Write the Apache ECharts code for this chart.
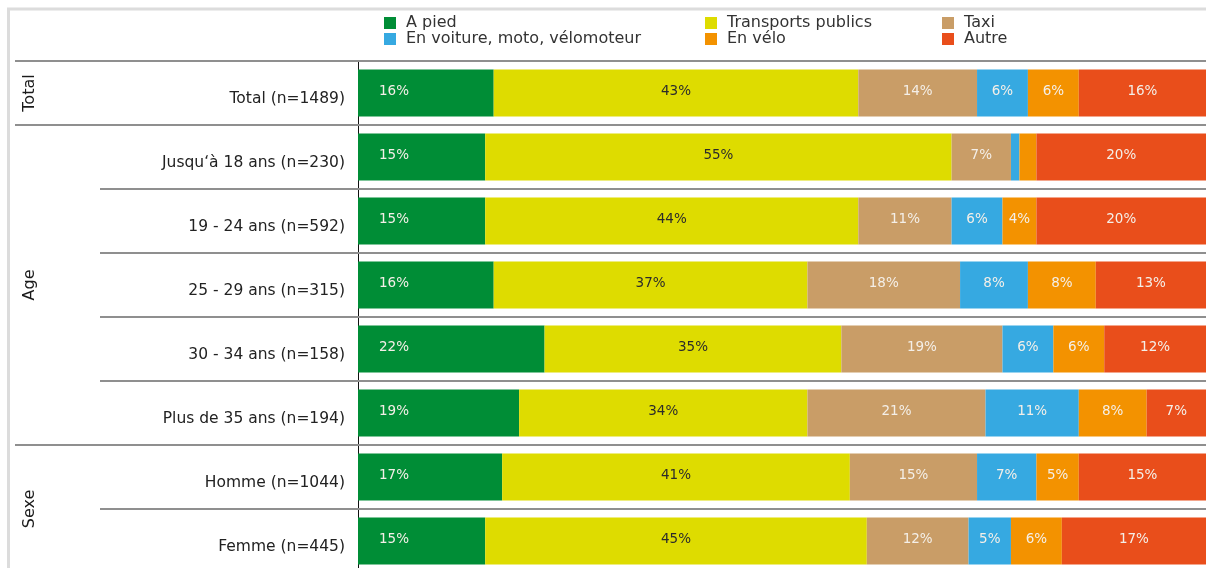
<!DOCTYPE html>
<html>
<head>
<meta charset="utf-8">
<script src="https://cdn.jsdelivr.net/npm/echarts@6/dist/echarts.min.js"></script>
<style>
  html, body { margin: 0; padding: 0; background: #ffffff; overflow: hidden; }
  #chart { width: 1206px; height: 573px; }
</style>
</head>
<body>
<div id="chart"></div>
<script>
// Respondent groups, top to bottom
const categories = [
  'Total (n=1489)',
  'Jusqu‘à 18 ans (n=230)',
  '19 - 24 ans (n=592)',
  '25 - 29 ans (n=315)',
  '30 - 34 ans (n=158)',
  'Plus de 35 ans (n=194)',
  'Homme (n=1044)',
  'Femme (n=445)'
];

// Section headings and how many rows each one spans
const groupNames = ['Total', 'Age', 'Sexe'];
const groupSizes = [1, 5, 2];

// Share of each mode of transport, in percent
const seriesNames = ['A pied', 'Transports publics', 'Taxi', 'En voiture, moto, vélomoteur', 'En vélo', 'Autre'];
const aPied      = [16, 15, 15, 16, 22, 19, 17, 15];
const transports = [43, 55, 44, 37, 35, 34, 41, 45];
const taxi       = [14,  7, 11, 18, 19, 21, 15, 12];
const voiture    = [ 6,  1,  6,  8,  6, 11,  7,  5];
const velo       = [ 6,  2,  4,  8,  6,  8,  5,  6];
const autre      = [16, 20, 20, 13, 12,  7, 15, 17];

const FONT = '"DejaVu Sans", "Open Sans", sans-serif';
const colors = ['#008d36', '#dedc00', '#c99d67', '#36a9e1', '#f39200', '#e94e1b'];
const values = [aPied, transports, taxi, voiture, velo, autre];

const chart = echarts.init(document.getElementById('chart'), null, { renderer: 'canvas' });

const series = values.map((vals, i) => ({
  name: seriesNames[i],
  type: 'bar',
  stack: 'total',
  data: vals,
  barWidth: 47,
  itemStyle: { color: colors[i] },
  label: {
    show: true,
    position: i === 0 ? 'insideLeft' : 'inside',
    distance: i === 0 ? 21 : 5,
    offset: [0, -2],
    formatter: p => (p.value < 3 ? '' : p.value + '%'),
    fontFamily: FONT,
    fontSize: 13.5,
    color: i === 1 ? '#2b2b2b' : '#f4efe8'
  },
  emphasis: { disabled: true },
  animation: false
}));

const legendBase = {
  orient: 'vertical',
  itemWidth: 12,
  itemHeight: 12,
  itemGap: 0,
  icon: 'rect',
  top: 10,
  selectedMode: false,
  textStyle: { fontFamily: FONT, fontSize: 16, lineHeight: 16, color: '#333', padding: [0, 0, 0, 5] }
};

chart.setOption({
  animation: false,
  legend: [
    Object.assign({}, legendBase, { left: 379, data: ['A pied', 'En voiture, moto, vélomoteur'] }),
    Object.assign({}, legendBase, { left: 700, data: ['Transports publics', 'En vélo'] }),
    Object.assign({}, legendBase, { left: 937, data: ['Taxi', 'Autre'] })
  ],
  grid: { left: 358, right: 0, top: 61, bottom: 0 },
  xAxis: {
    type: 'value',
    min: 0,
    max: 100,
    show: false
  },
  yAxis: {
    type: 'category',
    inverse: true,
    data: categories,
    axisLine: { show: true, lineStyle: { color: '#111', width: 1 } },
    axisTick: { show: false },
    splitLine: { show: false },
    axisLabel: {
      fontFamily: FONT,
      fontSize: 15.5,
      color: '#222',
      margin: 13,
      verticalAlign: 'top',
      lineHeight: 12
    }
  },
  series: series
});

// Row separators, section headings and the outer frame
function drawDecorations() {
  const p0 = chart.convertToPixel({ yAxisIndex: 0 }, categories[0]);
  const p1 = chart.convertToPixel({ yAxisIndex: 0 }, categories[1]);
  const band = Math.abs(p1 - p0);
  const boundary = i => Math.round(p0 + (i - 0.5) * band);
  const W = chart.getWidth();
  const H = chart.getHeight();

  const sectionStarts = [];
  let acc = 0;
  groupSizes.forEach(s => { sectionStarts.push(acc); acc += s; });

  const elements = [];
  // frame
  elements.push({ type: 'line', shape: { x1: 7, y1: 9, x2: W, y2: 9 }, style: { stroke: '#dcdcdc', lineWidth: 3 }, z: 10 });
  elements.push({ type: 'line', shape: { x1: 8.5, y1: 8, x2: 8.5, y2: H }, style: { stroke: '#dcdcdc', lineWidth: 3 }, z: 10 });

  for (let i = 0; i < categories.length; i++) {
    const isSection = sectionStarts.indexOf(i) >= 0;
    const y = boundary(i);
    elements.push({
      type: 'line',
      shape: { x1: isSection ? 15 : 100, y1: y, x2: W, y2: y },
      style: { stroke: '#8f8f8f', lineWidth: 2 },
      z: 10
    });
  }

  groupNames.forEach((name, g) => {
    const start = sectionStarts[g];
    const yTop = boundary(start);
    const yBot = boundary(start + groupSizes[g]);
    elements.push({
      type: 'text',
      x: 30,
      y: (yTop + yBot) / 2,
      rotation: Math.PI / 2,
      style: {
        text: name,
        fontFamily: FONT,
        fontSize: 16,
        fill: '#1a1a1a',
        align: 'center',
        verticalAlign: 'middle'
      },
      z: 10
    });
  });

  chart.setOption({ graphic: { elements: elements } });
}
drawDecorations();
</script>
</body>
</html>
